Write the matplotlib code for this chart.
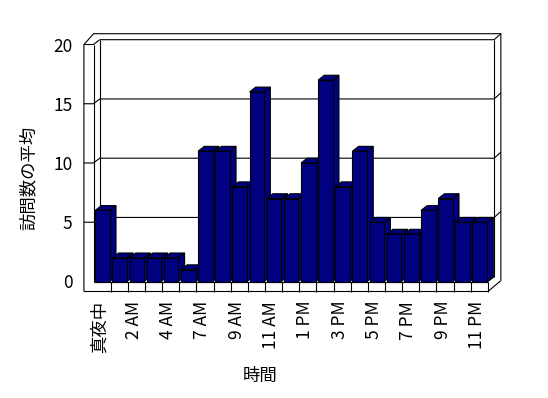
import matplotlib
matplotlib.use("Agg")
import matplotlib.pyplot as plt
from matplotlib.patches import Polygon
import numpy as np

plt.rcParams['font.family'] = ['Noto Sans CJK JP', 'DejaVu Sans']

# ---- data ----
hours = ['真夜中', '1 AM', '2 AM', '3 AM', '4 AM', '6 AM', '7 AM', '8 AM', '9 AM',
         '10 AM', '11 AM', '12 PM', '1 PM', '2 PM', '3 PM', '4 PM', '5 PM', '6 PM',
         '7 PM', '8 PM', '9 PM', '10 PM', '11 PM']
visits = [6, 2, 2, 2, 2, 1, 11, 11, 8, 16, 7, 7, 10, 17, 8, 11, 5, 4, 4, 6, 7, 5, 5]
yticks = [0, 5, 10, 15, 20]
ylabel = '訪問数の平均'
xlabel = '時間'

# ---- geometry (pixels) ----
W, H = 548, 398
X0, PX = 93.5, 17.15      # pixel of band edge -0.5, px per category
Y0, PY = 281.5, 11.85     # pixel of value 0, px per unit
Lp, Rp, Tp, Bp = 80, 510, 28, 296

n = len(hours)
ymax = 20
fig = plt.figure(figsize=(W / 100, H / 100), dpi=100)
ax = fig.add_axes([Lp / W, (H - Bp) / H, (Rp - Lp) / W, (Bp - Tp) / H])
ax.set_xlim((Lp - X0) / PX - 0.5, (Rp - X0) / PX - 0.5)
ax.set_ylim((Y0 - Bp) / PY, (Y0 - Tp) / PY)
for s in ax.spines.values():
    s.set_visible(False)

def px(dx):
    return dx / PX

def py(dy):
    return dy / PY

# depth vectors (data units)
dx, dy = px(6.2), py(4.8)       # interior depth
tx, ty = px(6.7), py(6.0)       # back wall thickness
w = px(9.6)                     # left wall thickness
f = py(10.0)                    # floor thickness
L, R = -0.5, n - 0.5

lw = 0.8
kw = dict(color='black', lw=lw, clip_on=False, zorder=1, solid_capstyle='butt')

def line(xs, ys, **k):
    d = dict(kw); d.update(k)
    ax.plot(xs, ys, **d)

# outer silhouette
line([L - w, L - w, L - w + px(9.7), R + dx + tx, R + dx + tx],
     [-f, ymax, ymax + py(10.8), ymax + dy + ty, -f + dy + ty])
line([L - w, R, R + dx + tx], [-f, -f, -f + dy + ty])
# left wall top and inner edges
line([L - w, L, L + dx], [ymax, ymax, ymax + dy])
line([L, L], [ymax, 0])
# back wall front face
line([L + dx, R + dx, R + dx + tx], [ymax + dy, ymax + dy, ymax + dy + ty])
line([L + dx, L + dx], [ymax + dy, dy])
line([R + dx, R + dx], [ymax + dy, dy])
# floor
line([L, R], [0, 0])
line([R, R], [0, -f])
line([R, R + dx], [0, dy])
for k in range(1, n):
    line([L + k, L + k], [-f, 0])
# gridlines
for v in yticks[1:-1]:
    line([L - w, L, L + dx, R + dx, R + dx + tx],
         [v, v, v + dy, v + dy, v + dy + ty])

# bars
navy = '#000080'
g, bw = px(1.7), px(14.6)
x = np.arange(n)
lefts = x - 0.5 + g
for i, (x0, v) in enumerate(zip(lefts, visits)):
    z = 2 + i * 0.01
    x1 = x0 + bw
    ax.add_patch(Polygon([(x1, 0), (x1 + dx, dy), (x1 + dx, v + dy), (x1, v)],
                         closed=True, facecolor=navy, edgecolor='black', lw=lw,
                         zorder=z, clip_on=False, joinstyle='miter'))
    ax.add_patch(Polygon([(x0, v), (x1, v), (x1 + dx, v + dy), (x0 + dx, v + dy)],
                         closed=True, facecolor=navy, edgecolor='black', lw=lw,
                         zorder=z, clip_on=False, joinstyle='miter'))
    ax.bar([x0], [v], width=bw, align='edge', color=navy, edgecolor='black',
           linewidth=lw, zorder=z + 0.001, clip_on=False)

# ticks and labels
fs = 12.5
ax.set_yticks(yticks)
ax.set_yticklabels([str(t) for t in yticks], fontsize=fs)
ax.tick_params(axis='y', length=0, pad=5.5)
ax.set_xticks(x[::2] - px(2.5))
ax.set_xticklabels(hours[::2], rotation=90, fontsize=fs, va='top', ha='center')
ax.tick_params(axis='x', length=0, pad=3.5)

fig.text(29 / W, 1 - 178 / H, ylabel, rotation=90, ha='center', va='center', fontsize=fs)
fig.text(260 / W, 1 - 376 / H, xlabel, ha='center', va='center', fontsize=fs)

fig.savefig('out.png', dpi=100)
